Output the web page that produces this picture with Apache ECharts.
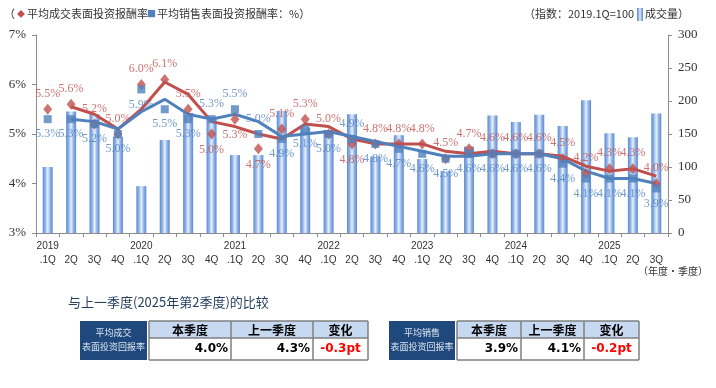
<!DOCTYPE html>
<html><head><meta charset="utf-8">
<script src="https://cdn.jsdelivr.net/npm/echarts@6/dist/echarts.min.js"></script>
<style>html,body{margin:0;padding:0;background:#fff}#c{width:716px;height:388px}</style>
</head><body><div id="c"></div>
<script>
// ---- data ----
const categories = ['2019.1Q','2019.2Q','2019.3Q','2019.4Q','2020.1Q','2020.2Q','2020.3Q','2020.4Q',
  '2021.1Q','2021.2Q','2021.3Q','2021.4Q','2022.1Q','2022.2Q','2022.3Q','2022.4Q',
  '2023.1Q','2023.2Q','2023.3Q','2023.4Q','2024.1Q','2024.2Q','2024.3Q','2024.4Q',
  '2025.1Q','2025.2Q','2025.3Q'];
const volumeIndex = [100,184,180,146,71,141,182,176,118,118,185,160,156,180,116,148,112,94,131,178,168,179,162,201,151,145,181];
const dealYield = [5.5,5.6,5.2,5.0,6.0,6.1,5.5,5.0,5.3,4.7,5.1,5.3,5.0,4.8,4.8,4.8,4.8,4.5,4.7,4.6,4.6,4.6,4.5,4.2,4.3,4.3,4.0];
const saleYield = [5.3,5.3,5.2,5.0,5.9,5.5,5.3,5.3,5.5,5.0,4.9,5.1,5.0,4.9,4.8,4.7,4.6,4.5,4.6,4.6,4.6,4.6,4.4,4.1,4.1,4.1,3.9];
const dealTrend = [null,5.55,5.4,5.1,5.5,6.05,5.8,5.25,5.15,5.0,4.9,5.2,5.15,4.9,4.8,4.8,4.8,4.65,4.6,4.65,4.6,4.6,4.55,4.35,4.25,4.3,4.15];
const saleTrend = [null,5.3,5.25,5.1,5.45,5.7,5.4,5.3,5.4,5.25,4.95,5.0,5.05,4.95,4.85,4.75,4.65,4.55,4.55,4.6,4.6,4.6,4.5,4.25,4.1,4.1,4.0];
const dealLabelBelow = [8,9,10,14];   // 1-based quarters with label below marker
const saleLabelAbove = [8,9,10,14];
const leftTicks = {min:3, max:7, interval:1};
const rightTicks = {min:0, max:300, interval:50};
const tableHeaders = ['本季度','上一季度','变化'];
const tableNames = [['平均成交','表面投资回报率'],['平均销售','表面投资回报率']];
const thisQuarter = ['4.0%','3.9%'];
const lastQuarter = ['4.3%','4.1%'];
const changeVal = ['-0.3pt','-0.2pt'];
const compareTitle = '与上一季度(2025年第2季度)的比较';

const RED = '#c0504d', BLUE = '#4f81bd';
const SERIF = 'Liberation Serif, DejaVu Serif, serif';
const CJK = 'Noto Sans CJK SC, sans-serif';

const chart = echarts.init(document.getElementById('c'), null, {renderer:'canvas'});

const barGrad = new echarts.graphic.LinearGradient(0,0,1,0,[
  {offset:0,color:'#5a8ad2'},{offset:0.25,color:'#8fb2e6'},{offset:0.5,color:'#e9f0fa'},
  {offset:0.75,color:'#8fb2e6'},{offset:1,color:'#5a8ad2'}]);

function labelled(arr, special, def, alt) {
  return arr.map((v,i)=>({value:v, label:{position: special.includes(i+1) ? alt : def}}));
}

// graphic: legend texts and comparison tables
const g = [];
g.push({type:'text', left:4, top:8, style:{text:'（', font:'11px '+CJK, fill:'#333'}});
g.push({type:'text', left:17, top:10, style:{text:'◆', font:'8px '+CJK, fill:RED}});
g.push({type:'text', left:27, top:8, style:{text:'平均成交表面投资报酬率', font:'11px '+CJK, fill:'#333'}});
g.push({type:'text', left:147, top:9, style:{text:'■', font:'9px '+CJK, fill:BLUE}});
g.push({type:'text', left:157, top:8, style:{text:'平均销售表面投资报酬率：%）', font:'11px '+CJK, fill:'#333'}});
g.push({type:'text', left:524, top:8, style:{text:'（指数：2019.1Q=100', font:'11px '+CJK, fill:'#333'}});
g.push({type:'rect', left:637, top:8, shape:{width:6,height:13}, style:{fill:barGrad}});
g.push({type:'text', left:645, top:8, style:{text:'成交量）', font:'11px '+CJK, fill:'#333'}});
g.push({type:'text', style:{x:708, y:271, text:'（年度·季度）', font:'10px '+CJK, fill:'#333', align:'right', verticalAlign:'middle'}});
g.push({type:'text', left:68, top:296, style:{text:compareTitle, font:'13px '+CJK, fill:'#243f60'}});

const tables = [
  {box:[80,67], cols:[149,231,313,368]},
  {box:[389,66], cols:[457,521,584,639]}
];
const y0 = 321, y1 = 338, y2 = 360;
tables.forEach((t,k)=>{
  g.push({type:'rect', shape:{x:t.box[0], y:y0, width:t.box[1], height:y2-y0}, style:{fill:'#1f497d'}});
  g.push({type:'text', style:{x:t.box[0]+t.box[1]/2, y:333, text:tableNames[k][0], font:'9px '+CJK, fill:'#dce4ef', align:'center', verticalAlign:'middle'}});
  g.push({type:'text', style:{x:t.box[0]+t.box[1]/2, y:347, text:tableNames[k][1], font:'9px '+CJK, fill:'#dce4ef', align:'center', verticalAlign:'middle'}});
  const c = t.cols;
  g.push({type:'rect', shape:{x:c[0], y:y0, width:c[3]-c[0], height:y1-y0}, style:{fill:'#c6d9f1'}});
  const vals = [thisQuarter[k], lastQuarter[k], changeVal[k]];
  for (let j=0;j<3;j++){
    g.push({type:'text', style:{x:(c[j]+c[j+1])/2, y:(y0+y1)/2+1, text:tableHeaders[j], font:'bold 12px '+CJK, fill:'#000', align:'center', verticalAlign:'middle'}});
    if (j<2) g.push({type:'text', style:{x:c[j+1]-3, y:(y1+y2)/2, text:vals[j], font:'bold 12px DejaVu Sans, sans-serif', fill:'#000', align:'right', verticalAlign:'middle'}});
    else g.push({type:'text', style:{x:(c[j]+c[j+1])/2, y:(y1+y2)/2, text:vals[j], font:'bold 12px DejaVu Sans, sans-serif', fill:'#ff0000', align:'center', verticalAlign:'middle'}});
  }
  const bc = '#7f7f7f';
  [y0,y1,y2].forEach(yy=>{
    g.push({type:'line', shape:{x1:c[0],y1:yy,x2:c[3],y2:yy}, style:{stroke:bc,lineWidth:1.5}});
  });
  c.forEach(xx=>g.push({type:'line', shape:{x1:xx,y1:y0,x2:xx,y2:y2}, style:{stroke:bc,lineWidth:1.5}}));
});

const option = {
  animation:false,
  backgroundColor:'#fff',
  grid:{left:36, right:48, top:35, bottom:155, containLabel:false},
  xAxis:{type:'category', data:categories, boundaryGap:true,
    axisLine:{lineStyle:{color:'#8c8c8c', width:1}},
    axisTick:{show:true, interval:0, length:4, lineStyle:{color:'#8c8c8c'}},
    axisLabel:{interval:0, fontSize:10, color:'#333', fontFamily:'Liberation Sans, Arial, sans-serif', lineHeight:14, margin:6,
      formatter:v=>{const [y,q]=v.split('.'); return q==='1Q' ? y+'\n.1Q' : '\n'+q;}}},
  yAxis:[
    {type:'value', min:leftTicks.min, max:leftTicks.max, interval:leftTicks.interval,
     axisLine:{show:true, lineStyle:{color:'#8c8c8c'}}, axisTick:{show:true, length:4, lineStyle:{color:'#8c8c8c'}},
     splitLine:{show:false},
     axisLabel:{formatter:'{value}%', fontSize:13, color:'#333', fontFamily:SERIF, margin:10}},
    {type:'value', min:rightTicks.min, max:rightTicks.max, interval:rightTicks.interval, position:'right',
     axisLine:{show:true, lineStyle:{color:'#8c8c8c'}}, axisTick:{show:true, length:4, lineStyle:{color:'#8c8c8c'}},
     splitLine:{show:false},
     axisLabel:{fontSize:13, color:'#333', fontFamily:SERIF, margin:10}}
  ],
  series:[
    {type:'bar', yAxisIndex:1, data:volumeIndex, barWidth:10, itemStyle:{color:barGrad}, z:1},
    {type:'line', data:dealTrend, showSymbol:false, symbol:'none', lineStyle:{color:RED, width:3}, z:2},
    {type:'line', data:saleTrend, showSymbol:false, symbol:'none', lineStyle:{color:BLUE, width:3}, z:3},
    {type:'scatter', data:labelled(dealYield, dealLabelBelow, 'top', 'bottom'), symbol:'diamond', symbolSize:[9,11],
     itemStyle:{color:RED}, z:4,
     label:{show:true, formatter:p=>p.value.toFixed(1)+'%', color:RED, fontSize:12, fontFamily:SERIF, distance:4}},
    {type:'scatter', data:labelled(saleYield, saleLabelAbove, 'bottom', 'top'), symbol:'rect', symbolSize:8,
     itemStyle:{color:BLUE}, z:5,
     label:{show:true, formatter:p=>p.value.toFixed(1)+'%', color:BLUE, fontSize:12, fontFamily:SERIF, distance:5}}
  ],
  graphic:g
};
chart.setOption(option);
</script></body></html>
